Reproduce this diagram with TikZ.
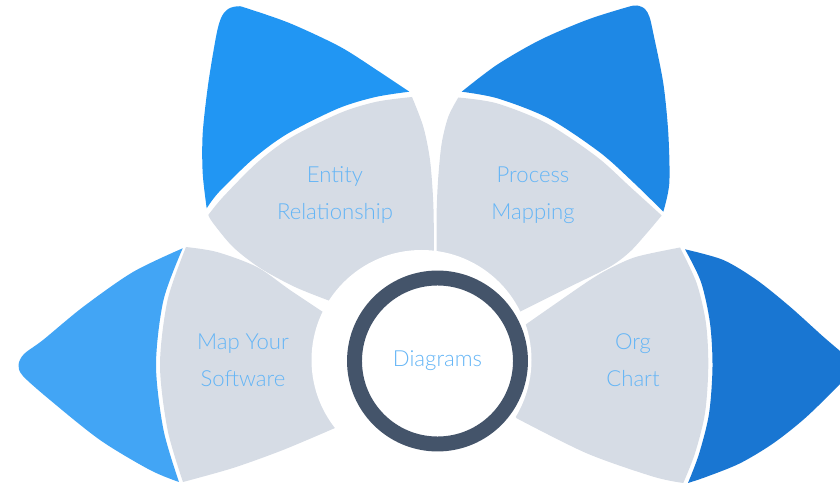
\documentclass[tikz,border=0pt]{standalone}
\usepackage{fontspec}
\setmainfont{Lato Light}
\usepackage{tikz}
\definecolor{leafgray}{RGB}{214,220,229}
\definecolor{tipleft}{RGB}{66,165,245}
\definecolor{tipupl}{RGB}{33,150,243}
\definecolor{tipupr}{RGB}{30,136,229}
\definecolor{tipright}{RGB}{25,118,210}
\definecolor{ringslate}{RGB}{68,84,106}
\definecolor{txtblue}{RGB}{100,181,246}

\begin{document}
\begin{tikzpicture}[x=0.02cm, y=-0.02cm,
        leaf/.style={fill=leafgray},
        lbl/.style={text=txtblue, align=center, font=\fontsize{12.6}{21}\selectfont}]
        \useasboundingbox (0,0) rectangle (840,483);
        \clip (0,0) rectangle (840,483);
        % blue tips
        \fill[tipleft] plot[smooth] coordinates {(182.7,248.3) (133,272) (83,307) (43,340) (24,354) (18.5,365) (23,376) (50,400) (100,440) (150,470) (179,482)}
            -- plot[smooth] coordinates {(179,482) (163.5,430) (156,365) (163.5,300) (182.7,248.3)} -- cycle;
        \fill[tipupl] plot[smooth] coordinates {(206.7,208.3) (202.7,173.3) (202.7,133.3) (208.3,83.3) (216.7,33.3) (222,16) (229,8.5) (238,6.3) (246,8) (290,23.3) (340,46.7) (376.7,70) (409.3,91.7)}
            -- plot[smooth] coordinates {(409.3,91.7) (375.5,97) (338,108.5) (287,134) (253,159) (219,192) (206.7,208.3)} -- cycle;
        \fill[tipupr] plot[smooth] coordinates {(461.7,91.7) (496.7,65) (540,40) (586.7,20) (626.7,7.3) (637,5.5) (645,9) (649.5,17) (653.3,33.3) (663.3,83.3) (668.3,133.3) (669.3,183.3) (663.3,211.7)}
            -- plot[smooth] coordinates {(663.3,211.7) (634,183) (600,152.5) (549,118.5) (498,98.5) (461.7,91.7)} -- cycle;
        \fill[tipright] plot[smooth] coordinates {(685,249.3) (723.3,260) (756.7,280) (790,306.7) (823.3,336.7) (848,358) (855,367) (848,376) (806.7,416.7) (773.3,443.3) (740,463.3) (706.7,476.7) (688,483)}
            -- plot[smooth] coordinates {(688,483) (699,454) (709,414) (712.5,367) (710,323) (701,282) (685,249.3)} -- cycle;
        % gray leaves
        \fill[leaf] plot[smooth] coordinates {(186,247) (217,252) (257,267) (290,290) (323,312)} -- (375,360)
            -- plot[smooth] coordinates {(335,428) (283,450) (233,468) (183,482)}
            -- plot[smooth] coordinates {(183,482) (167.6,430) (160,365) (167.6,300) (186,247)} -- cycle;
        \fill[leaf] plot[smooth] coordinates {(208.3,215) (223,197) (256.7,163) (290,138) (340,113) (376.7,101.7) (412,97)}
            -- plot[smooth] coordinates {(412,97) (423.3,126.7) (430,160) (433.3,203.3) (434,251.7) (434,262)} -- (400,330)
            -- plot[smooth] coordinates {(330,301) (295,287) (260,268) (233,247) (213,223) (208.3,215)} -- cycle;
        \fill[leaf] (437,262) -- plot[smooth] coordinates {(436.7,251.7) (436.7,210) (438.3,176.7) (441.7,143.3) (448.3,116.7) (458.3,97.5)}
            -- plot[smooth] coordinates {(458.3,97.5) (496.7,103.3) (546.7,123.3) (596.7,156.7) (630,186.7) (661.7,215.5)}
            -- plot[smooth] coordinates {(661.7,215.5) (646.7,233.3) (630,251.7) (610,266.7) (570,286.7) (520,311.7)} -- (480,330) -- cycle;
        \fill[leaf] plot[smooth] coordinates {(525,325) (558,302) (590,280) (610,268.3) (636.7,256.7) (680,247.5)}
            -- plot[smooth] coordinates {(680,247.5) (696.7,283.3) (706,323.3) (708.3,366.7) (705,413.3) (695,453.3) (683.3,483)}
            -- plot[smooth] coordinates {(683.3,483) (653.3,476.7) (586.7,453.3) (516.7,418.3)} -- (480,370) -- cycle;
        % hub
        \fill[white] (421.5,360) circle[radius=110];
        \node[lbl, circle, draw=ringslate, line width=8.5pt, minimum size=3.32cm, inner sep=0pt] (diag) at (437.5,361) {Diagrams};
        \node[lbl] (er) at (335,195) {Entity\\Relationship};
        \node[lbl] (pm) at (533,195) {Process\\Mapping};
        \node[lbl] (mys) at (243,360) {Map Your\\Software};
        \node[lbl] (org) at (633,360) {Org\\Chart};
    \end{tikzpicture}
\end{document}
